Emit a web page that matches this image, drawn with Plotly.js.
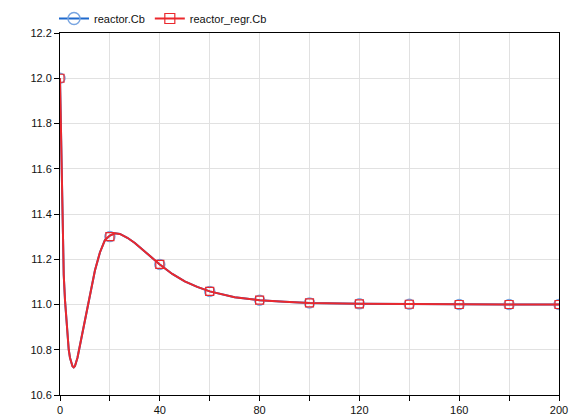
<!DOCTYPE html>
<html>
<head>
<meta charset="utf-8">
<script src="https://cdn.plot.ly/plotly-3.0.1.min.js"></script>
<style>
  html, body { margin: 0; padding: 0; background: #fff; }
  #plot { width: 584px; height: 420px; }
</style>
</head>
<body>
<div id="plot"></div>
<script>
// simulation time and concentration
var time = [0, 0.2, 0.4, 0.7, 1.0, 1.5, 2.0, 2.5, 3.0, 3.5, 4.0, 4.5, 5.0, 5.5, 6.0, 7.0, 8.0, 9.0, 10, 12, 14, 16, 18, 20, 22, 24, 27, 30, 35, 40, 45, 50, 55, 60, 70, 80, 90, 100, 120, 140, 160, 180, 200];
var cb = [12.0, 11.89, 11.70, 11.45, 11.30, 11.13, 11.02, 10.93, 10.85, 10.80, 10.765, 10.74, 10.727, 10.722, 10.728, 10.765, 10.82, 10.875, 10.93, 11.04, 11.15, 11.23, 11.285, 11.305, 11.315, 11.312, 11.295, 11.272, 11.224, 11.177, 11.135, 11.102, 11.078, 11.058, 11.032, 11.019, 11.012, 11.007, 11.003, 11.001, 11.0, 11.0, 11.0];

// marker positions (every 20 s)
var markTime = [0, 20, 40, 60, 80, 100, 120, 140, 160, 180, 200];
var markCb = [12.0, 11.30, 11.177, 11.058, 11.019, 11.007, 11.003, 11.001, 11.0, 11.0, 11.0];

var xTicks = [0, 20, 40, 60, 80, 100, 120, 140, 160, 180, 200];
var xLabels = ['0', '', '40', '', '80', '', '120', '', '160', '', '200'];

var blue = 'rgb(30,105,205)';
var blueMark = 'rgb(120,165,225)';
var red = 'rgb(235,40,45)';

var data = [
    { x: time, y: cb, mode: 'lines', line: {color: blue, width: 2}, showlegend: false, hoverinfo: 'skip' },
    { x: markTime, y: markCb, mode: 'markers', showlegend: false,
      marker: {symbol: 'circle-open', size: 10, color: blueMark, line: {width: 1.5}} },
    { x: [null], y: [null], mode: 'lines+markers', name: 'reactor.Cb', legend: 'legend',
      line: {color: blue, width: 2}, marker: {symbol: 'circle-open', size: 12, color: blueMark, line: {width: 1.5}} },
    { x: time, y: cb, mode: 'lines', line: {color: red, width: 2}, showlegend: false, hoverinfo: 'skip' },
    { x: markTime, y: markCb, mode: 'markers', showlegend: false,
      marker: {symbol: 'square-open', size: 8, color: red, line: {width: 1.2}} },
    { x: [null], y: [null], mode: 'lines+markers', name: 'reactor_regr.Cb', legend: 'legend2',
      line: {color: red, width: 2}, marker: {symbol: 'square-open', size: 10, color: red, line: {width: 1.2}} }
];

var axisCommon = {
    showline: true, linecolor: '#000', linewidth: 1, mirror: true,
    ticks: 'outside', ticklen: 5, tickcolor: '#000',
    gridcolor: 'rgb(225,225,225)', gridwidth: 1, zeroline: false
};

var legendCommon = {orientation: 'h', xanchor: 'left', y: 1.0, yanchor: 'bottom',
                    font: {size: 11}, bgcolor: 'rgba(0,0,0,0)'};

var layout = {
    width: 584, height: 420,
    margin: {l: 60, r: 25, t: 33, b: 25, autoexpand: false},
    paper_bgcolor: '#fff', plot_bgcolor: '#fff',
    font: {family: 'Liberation Sans, Arial, sans-serif', size: 11, color: '#111'},
    showlegend: true,
    legend: Object.assign({}, legendCommon, {x: -0.012}),
    legend2: Object.assign({}, legendCommon, {x: 0.18}),
    xaxis: Object.assign({}, axisCommon, {range: [0, 200], tickmode: 'array', tickvals: xTicks, ticktext: xLabels}),
    yaxis: Object.assign({}, axisCommon, {range: [10.6, 12.2], dtick: 0.2, tick0: 10.6, tickformat: '.1f'})
};

Plotly.newPlot('plot', data, layout, {displayModeBar: false, staticPlot: true});
</script>
</body>
</html>
